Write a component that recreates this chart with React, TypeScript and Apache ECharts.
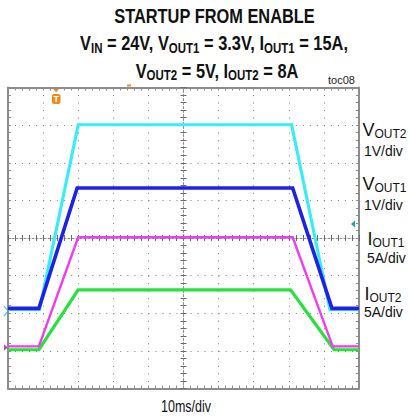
import React, { useEffect, useRef } from "react";
import * as echarts from "echarts";

// Time axis in ms relative to screen centre (10 ms/div), vertical in divisions relative to centre
const vout2X = [-50, -41.0, -30.0, 30.8, 41.7, 50];
const vout2Y = [-1.9, -1.9, 3.01, 3.01, -1.9, -1.9];
const vout1X = [-50, -41.2, -30.3, 31.1, 42.3, 50];
const vout1Y = [-1.87, -1.87, 1.33, 1.33, -1.87, -1.87];
const iout1X = [-50, -41.2, -30.0, 31.1, 42.5, 50];
const iout1Y = [-2.88, -2.88, 0.02, 0.02, -2.88, -2.88];
const iout2X = [-50, -41.2, -30.0, 30.5, 42.9, 50];
const iout2Y = [-2.97, -2.97, -1.38, -1.38, -2.97, -2.97];

const titleLine1 = "STARTUP FROM ENABLE";
const titleLine2 = "{b|V}{s|IN}{b| = 24V, V}{s|OUT1}{b| = 3.3V, I}{s|OUT1}{b| = 15A,}";
const titleLine3 = "{b|V}{s|OUT2}{b| = 5V, I}{s|OUT2}{b| = 8A}";
const xScaleLabel = "10ms/div";
const figId = "toc08";

const FONT = "'Liberation Sans', Arial, Helvetica, sans-serif";
const NARROW_SCALE = 0.82;

const zip = (xs: number[], ys: number[]) => xs.map((x, i) => [x, ys[i]]);

export default function App() {
  const ref = useRef<HTMLDivElement>(null);
  useEffect(() => {
    if (!ref.current) return;
    const chart = echarts.init(ref.current, undefined, { renderer: "svg" });
    const border = { color: "#8c8c8c", width: 2 };
    const tickStyle = { color: "#8c8c8c", width: 1 };
    const centerTick = { color: "#6a6a6a", width: 1 };
    const gridLeft = 8, gridTop = 87.5, gridW = 351, gridH = 301;
    const dx = gridW / 50, dy = gridH / 40;

    const baseX = (pos: string, split: boolean) => ({
      type: "value", min: -50, max: 50, interval: 10, position: pos,
      axisLine: { show: true, onZero: false, lineStyle: border },
      axisTick: { show: true, inside: true, length: 3, lineStyle: tickStyle },
      minorTick: { show: true, splitNumber: 5, length: 3, lineStyle: tickStyle },
      axisLabel: { show: false },
      splitLine: { show: split, lineStyle: { color: "#7a7a7a", width: 1, type: [1, dy - 1] } },
    });
    const baseY = (pos: string, split: boolean) => ({
      type: "value", min: -4, max: 4, interval: 1, position: pos,
      axisLine: { show: true, onZero: false, lineStyle: border },
      axisTick: { show: true, inside: true, length: 3, lineStyle: tickStyle },
      minorTick: { show: true, splitNumber: 5, length: 3, lineStyle: tickStyle },
      axisLabel: { show: false },
      splitLine: { show: split, lineStyle: { color: "#7a7a7a", width: 1, type: [1, dx - 1] } },
    });
    const centerX = (inside: boolean) => ({
      type: "value", min: -50, max: 50, interval: 10, position: "bottom",
      axisLine: { show: inside, onZero: true, onZeroAxisIndex: 0, lineStyle: { color: "#8a8a8a", width: 1, type: [2, 2] } },
      axisTick: { show: true, inside, length: 3, lineStyle: centerTick },
      minorTick: { show: true, splitNumber: 5, length: 3, lineStyle: centerTick },
      axisLabel: { show: false },
      splitLine: { show: false },
    });
    const centerY = (inside: boolean) => ({
      type: "value", min: -4, max: 4, interval: 1, position: "left",
      axisLine: { show: inside, onZero: true, onZeroAxisIndex: 0, lineStyle: { color: "#8a8a8a", width: 1, type: [2, 2] } },
      axisTick: { show: true, inside, length: 3, lineStyle: centerTick },
      minorTick: { show: true, splitNumber: 5, length: 3, lineStyle: centerTick },
      axisLabel: { show: false },
      splitLine: { show: false },
    });

    const line = (name: string, xs: number[], ys: number[], color: string, width: number, z: number) => ({
      name, type: "line", xAxisIndex: 0, yAxisIndex: 0, data: zip(xs, ys),
      showSymbol: false, symbol: "none", z,
      lineStyle: { color, width, join: "miter" }, silent: true,
    });

    const chanLabel = (x: number, y: number, main: string, sub: string) => ({
      type: "text", x, y,
      style: {
        text: `{m|${main}}{s|${sub}}`,
        verticalAlign: "middle",
        rich: {
          m: { fontFamily: FONT, fontSize: 18, lineHeight: 20, verticalAlign: "middle", fill: "#111" },
          s: { fontFamily: FONT, fontSize: 12, lineHeight: 12, verticalAlign: "bottom", fill: "#111" },
        },
      },
    });
    const scaleLabel = (x: number, y: number, t: string) => ({
      type: "text", x, y, scaleX: 0.9,
      style: { text: t, fontFamily: FONT, fontSize: 15.5, fill: "#111", verticalAlign: "middle" },
    });
    const titleRich = {
      b: { fontFamily: FONT, fontWeight: "bold", fontSize: 20, lineHeight: 24, fill: "#111", verticalAlign: "middle" },
      s: { fontFamily: FONT, fontWeight: "bold", fontSize: 14, lineHeight: 14, fill: "#111", verticalAlign: "bottom" },
    };

    const orange = "#f08a1c";

    chart.setOption({
      animation: false,
      backgroundColor: "#ffffff",
      grid: { left: gridLeft, top: gridTop, width: gridW, height: gridH, outerBoundsMode: "none", containLabel: false },
      xAxis: [baseX("bottom", true), baseX("top", false), centerX(true), centerX(false)],
      yAxis: [baseY("left", true), baseY("right", false), centerY(true), centerY(false)],
      series: [
        line("IOUT2", iout2X, iout2Y, "#27e23c", 3.2, 3),
        line("IOUT1", iout1X, iout1Y, "#f23cf0", 2.4, 4),
        line("VOUT2", vout2X, vout2Y, "#38eef4", 3.2, 5),
        line("VOUT1", vout1X, vout1Y, "#1e22e6", 3.6, 6),
      ],
      graphic: [
        { type: "text", x: 214.5, y: 15.5, scaleX: NARROW_SCALE, style: { text: titleLine1, fontFamily: FONT, fontWeight: "bold", fontSize: 20, fill: "#111", align: "center", verticalAlign: "middle" } },
        { type: "text", x: 214, y: 43, scaleX: NARROW_SCALE, style: { text: titleLine2, align: "center", verticalAlign: "middle", rich: titleRich } },
        { type: "text", x: 217, y: 70.5, scaleX: NARROW_SCALE, style: { text: titleLine3, align: "center", verticalAlign: "middle", rich: titleRich } },
        { type: "text", x: 328, y: 80, style: { text: figId, fontFamily: FONT, fontSize: 11, fill: "#222", verticalAlign: "middle" } },
        { type: "text", x: 186, y: 406, scaleX: 0.78, style: { text: xScaleLabel, fontFamily: FONT, fontSize: 16, fill: "#111", align: "center", verticalAlign: "middle" } },
        chanLabel(362.5, 129.5, "V", "OUT2"),
        scaleLabel(364, 150.5, "1V/div"),
        chanLabel(362.5, 184, "V", "OUT1"),
        scaleLabel(364, 205, "1V/div"),
        chanLabel(367.5, 238.5, "I", "OUT1"),
        scaleLabel(367, 258, "5A/div"),
        chanLabel(364.5, 293.5, "I", "OUT2"),
        scaleLabel(364, 311.5, "5A/div"),
        // trigger marker
        { type: "polygon", shape: { points: [[53, 88.5], [59, 88.5], [56, 92.5]] }, style: { fill: orange } },
        { type: "rect", shape: { x: 52, y: 94, width: 8.5, height: 10, r: 2 }, style: { fill: orange } },
        { type: "text", x: 56.3, y: 99.3, style: { text: "T", fontFamily: FONT, fontWeight: "bold", fontSize: 9, fill: "#fff", align: "center", verticalAlign: "middle" } },
        { type: "rect", shape: { x: 127, y: 84.5, width: 4, height: 2 }, style: { fill: orange } },
        // trigger level marker (right)
        { type: "polygon", shape: { points: [[351, 224], [355, 220.5], [355, 227.5]] }, style: { fill: "#19a5a8" } },
        // channel ground markers (left)
        { type: "polyline", shape: { points: [[4, 306], [8, 311], [4, 316]] }, style: { stroke: "#30d0d8", lineWidth: 1.2, fill: "none" } },
        { type: "polygon", shape: { points: [[4, 344.5], [8, 347.5], [4, 350.5]] }, style: { fill: "#c040c8" } },
      ],
    });
    return () => chart.dispose();
  }, []);
  return <div ref={ref} style={{ position: "fixed", left: 0, top: 0, width: 409, height: 419 }} />;
}
